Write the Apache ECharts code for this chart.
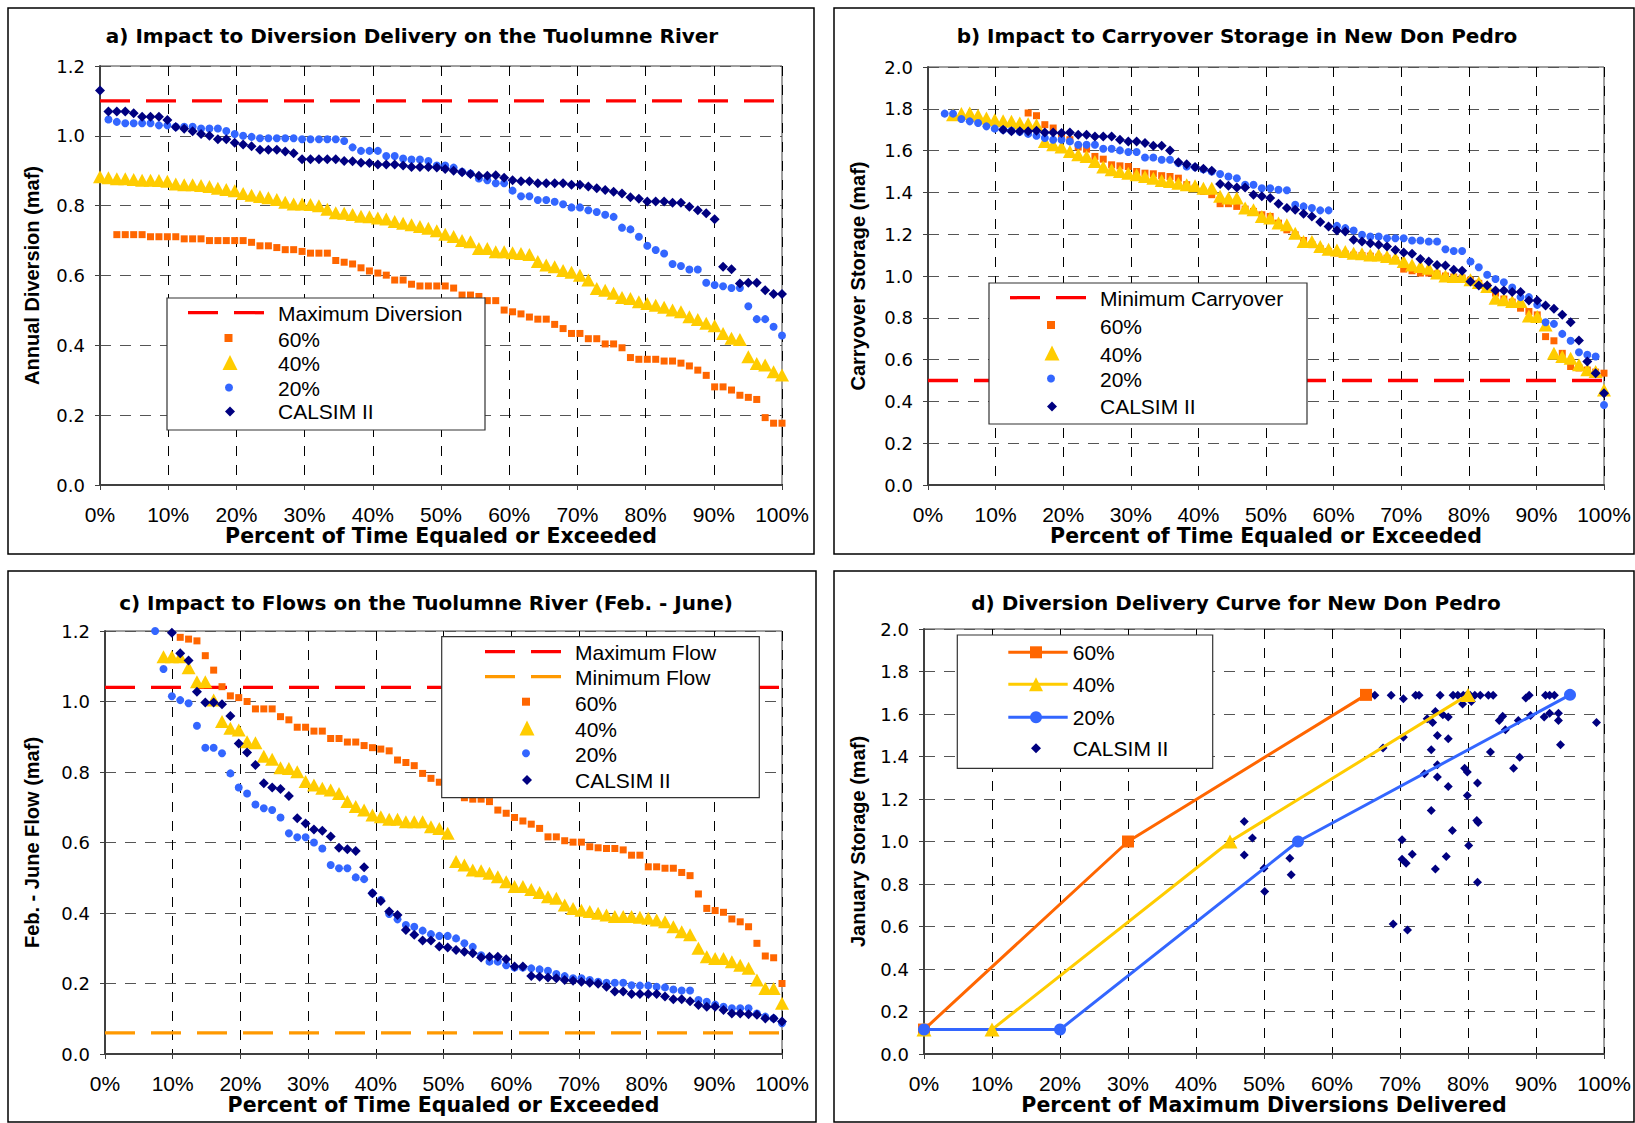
<!DOCTYPE html>
<html><head><meta charset="utf-8">
<script src="https://cdn.jsdelivr.net/npm/echarts/dist/echarts.min.js"></script>
<style>html,body{margin:0;padding:0;background:#fff}#c{width:1635px;height:1123px}</style>
</head><body><div id="c"></div><script>
// ---------- DATA ----------
const PCT_STEP = 100 / 81; // exceedance plotting-position spacing (82 years, rank 0..81)

// Panel a: Annual Diversion (maf)
const A_MAX_DIVERSION = 1.1;
const A_60_START = 2;
const A_60 = [0.717,0.717,0.717,0.717,0.711,0.711,0.711,0.711,0.705,0.705,0.705,0.70,0.70,0.70,0.70,0.70,0.695,0.685,0.685,0.68,0.674,0.674,0.669,0.664,0.664,0.664,0.643,0.638,0.633,0.622,0.613,0.607,0.601,0.587,0.587,0.575,0.57,0.57,0.57,0.57,0.564,
0.544,0.544,0.54,0.528,0.528,0.501,0.496,0.49,0.481,0.475,0.475,0.46,0.448,0.434,0.434,0.419,0.419,0.404,0.404,0.393,0.365,0.36,0.36,0.36,0.355,0.355,0.349,0.341,0.329,0.314,0.281,0.281,0.272,0.257,0.251,0.245,0.193,0.177,0.177];
const A_40_START = 0;
const A_40 = [0.883,0.88,0.877,0.877,0.875,0.873,0.873,0.872,0.87,0.862,0.86,0.86,0.858,0.855,0.85,0.846,0.843,0.835,0.83,0.826,0.823,0.818,0.81,0.805,0.805,0.803,0.80,0.79,0.78,0.778,0.775,0.77,0.768,0.765,0.762,0.755,0.75,0.745,0.74,0.735,0.728,0.718,0.712,
0.70,0.697,0.677,0.677,0.668,0.668,0.665,0.663,0.66,0.64,0.63,0.625,0.614,0.609,0.601,0.587,0.563,0.558,0.549,0.537,0.534,0.525,0.52,0.515,0.509,0.501,0.496,0.482,0.474,0.463,0.456,0.434,0.42,0.417,0.367,0.348,0.344,0.324,0.315];
const A_20_START = 1;
const A_20 = [1.047,1.04,1.036,1.036,1.036,1.036,1.03,1.03,1.026,1.026,1.026,1.021,1.021,1.021,1.014,1.005,1.0,0.997,0.993,0.993,0.993,0.993,0.993,0.99,0.99,0.99,0.99,0.99,0.985,0.967,0.957,0.957,0.957,0.942,0.942,0.935,0.932,0.932,0.928,0.915,0.915,0.909,
0.897,0.892,0.878,0.873,0.864,0.864,0.843,0.827,0.827,0.816,0.816,0.811,0.804,0.795,0.795,0.787,0.782,0.774,0.768,0.737,0.732,0.711,0.685,0.673,0.663,0.633,0.627,0.617,0.617,0.579,0.573,0.569,0.564,0.564,0.512,0.475,0.475,0.453,0.428];
const A_CAL_START = 0;
const A_CAL = [1.13,1.07,1.07,1.07,1.065,1.055,1.055,1.055,1.045,1.025,1.02,1.013,1.005,1.0,0.99,0.99,0.98,0.975,0.97,0.96,0.96,0.96,0.955,0.95,0.933,0.933,0.933,0.933,0.933,0.928,0.927,0.923,0.922,0.918,0.918,0.918,0.915,0.911,0.911,0.911,0.909,0.905,0.90,
0.896,0.891,0.886,0.886,0.887,0.88,0.873,0.87,0.87,0.864,0.864,0.864,0.864,0.86,0.86,0.855,0.85,0.845,0.84,0.835,0.824,0.82,0.812,0.812,0.812,0.808,0.808,0.797,0.787,0.778,0.761,0.625,0.618,0.577,0.579,0.579,0.558,0.547,0.547];

// Panel b: Carryover Storage (maf)
const B_MIN_CARRYOVER = 0.5;
const B_60_START = 12;
const B_60 = [1.78,1.767,1.724,1.708,1.665,1.652,1.617,1.607,1.572,1.559,1.532,1.527,1.524,1.50,1.492,1.489,1.48,1.476,1.468,1.437,1.42,1.405,1.389,1.346,1.346,1.333,1.32,1.309,1.293,1.285,1.253,
1.221,1.197,1.17,1.15,1.13,1.117,1.11,1.105,1.10,1.098,1.095,1.09,1.085,1.075,1.033,1.025,1.014,1.014,1.01,1.0,0.995,0.99,0.98,0.965,0.95,0.918,0.89,0.875,0.846,0.83,0.814,0.71,0.69,0.63,0.567,0.56,0.55,0.54,0.535];
const B_40_START = 3;
const B_40 = [1.772,1.777,1.78,1.769,1.756,1.748,1.743,1.74,1.732,1.729,1.724,1.644,1.628,1.617,1.596,1.58,1.572,1.548,1.521,1.508,1.50,1.492,1.484,1.476,1.468,1.457,1.452,1.444,1.437,1.432,1.42,1.42,1.381,1.373,1.373,1.325,1.317,1.285,1.277,1.253,
1.245,1.205,1.165,1.165,1.141,1.128,1.125,1.117,1.109,1.106,1.101,1.101,1.093,1.085,1.069,1.053,1.045,1.037,1.014,1.0,0.998,0.998,0.982,0.969,0.95,0.894,0.886,0.878,0.878,0.809,0.806,0.766,0.63,0.615,0.607,0.575,0.551,0.543,0.455];
const B_20_START = 2;
const B_20 = [1.777,1.777,1.751,1.74,1.732,1.716,1.705,1.70,1.695,1.69,1.68,1.671,1.66,1.652,1.652,1.644,1.628,1.628,1.628,1.609,1.609,1.601,1.593,1.593,1.567,1.567,1.556,1.556,1.54,1.524,1.52,1.51,1.50,1.488,1.476,1.468,1.437,1.437,1.42,1.42,1.413,
1.41,1.341,1.333,1.325,1.314,1.314,1.24,1.229,1.218,1.197,1.189,1.189,1.181,1.181,1.181,1.17,1.17,1.165,1.165,1.128,1.12,1.12,1.069,1.042,1.006,0.986,0.97,0.945,0.899,0.899,0.862,0.779,0.771,0.723,0.69,0.635,0.623,0.615,0.383];
const B_CAL_START = 9;
const B_CAL = [1.70,1.692,1.692,1.692,1.695,1.687,1.687,1.684,1.687,1.676,1.676,1.668,1.668,1.668,1.652,1.644,1.644,1.636,1.623,1.623,1.601,1.544,1.535,1.521,1.513,1.504,1.44,1.432,1.424,1.424,1.389,1.381,1.373,1.346,
1.325,1.317,1.298,1.285,1.258,1.237,1.218,1.213,1.173,1.165,1.157,1.149,1.141,1.125,1.112,1.106,1.081,1.069,1.053,1.05,1.03,1.025,0.974,0.955,0.955,0.931,0.931,0.923,0.923,0.883,0.883,0.859,0.843,0.814,0.779,0.691,0.591,0.535,0.439];

// Panel c: Feb. - June Flow (maf)
const C_MAX_FLOW = 1.04;
const C_MIN_FLOW = 0.06;
const C_60_START = 9;
const C_60 = [1.182,1.177,1.172,1.13,1.089,1.042,1.016,1.011,1.0,0.979,0.979,0.979,0.957,0.948,0.927,0.927,0.916,0.916,0.895,0.895,0.885,0.885,0.875,0.869,0.865,0.86,0.834,0.827,0.818,0.796,0.782,0.771,0.771,0.75,
0.727,0.723,0.723,0.716,0.692,0.683,0.671,0.661,0.652,0.64,0.616,0.616,0.605,0.601,0.601,0.588,0.585,0.583,0.583,0.579,0.564,0.564,0.531,0.531,0.527,0.527,0.515,0.506,0.454,0.413,0.407,0.402,0.383,0.375,0.361,0.314,0.278,0.273,0.20];
const C_40_START = 7;
const C_40 = [1.127,1.127,1.127,1.096,1.056,1.056,1.004,0.943,0.924,0.919,0.886,0.883,0.845,0.836,0.812,0.81,0.801,0.773,0.763,0.754,0.749,0.739,0.716,0.702,0.692,0.678,0.673,0.666,0.666,0.659,0.659,0.659,0.645,0.64,0.626,0.546,
0.536,0.522,0.52,0.513,0.503,0.489,0.475,0.475,0.467,0.458,0.446,0.442,0.423,0.413,0.408,0.404,0.399,0.394,0.39,0.39,0.39,0.388,0.385,0.38,0.375,0.361,0.347,0.338,0.30,0.276,0.271,0.271,0.262,0.252,0.243,0.21,0.186,0.186,0.144];
const C_20_START = 6;
const C_20 = [1.2,1.092,1.015,1.004,0.995,0.931,0.869,0.869,0.853,0.796,0.756,0.739,0.708,0.697,0.692,0.671,0.626,0.615,0.615,0.60,0.583,0.536,0.527,0.527,0.501,0.496,0.456,0.437,0.397,0.382,0.366,0.361,0.35,0.34,0.335,0.335,0.328,
0.314,0.304,0.28,0.262,0.262,0.252,0.245,0.245,0.243,0.24,0.236,0.227,0.221,0.215,0.215,0.21,0.205,0.202,0.202,0.202,0.195,0.194,0.194,0.191,0.189,0.183,0.18,0.18,0.153,0.148,0.14,0.134,0.13,0.13,0.13,0.115,0.106,0.101,0.087];
const C_CAL_START = 8;
const C_CAL = [1.195,1.137,1.116,1.028,0.997,0.997,0.992,0.959,0.881,0.855,0.82,0.768,0.756,0.752,0.732,0.669,0.654,0.637,0.633,0.617,0.585,0.581,0.576,0.53,0.456,0.434,0.404,0.394,0.352,0.338,0.322,0.322,0.305,0.302,0.295,
0.29,0.286,0.274,0.276,0.276,0.269,0.248,0.248,0.221,0.219,0.217,0.215,0.21,0.208,0.205,0.202,0.199,0.191,0.177,0.177,0.17,0.17,0.17,0.17,0.163,0.155,0.155,0.15,0.139,0.134,0.134,0.125,0.115,0.115,0.113,0.111,0.101,0.101,0.092];

// Panel d: Diversion delivery curves [percent of max diversion, January storage]
const D_60 = [[0,0.115],[30,1.0],[65,1.69]];
const D_40 = [[0,0.115],[10,0.115],[45,1.0],[80,1.69]];
const D_20 = [[0,0.115],[20,0.115],[55,1.0],[95,1.69]];
const D_CAL = [[47.1,1.094],[48.3,1.016],[47.1,0.937],[50.0,0.874],[50.1,0.765],[53.8,0.921],[54.0,0.843],
[66.3,1.688],[68.7,1.688],[70.5,1.672],[72.3,1.688],[72.8,1.688],[75.9,1.688],[77.8,1.688],[78.5,1.688],[79.3,1.688],[79.8,1.688],[80.3,1.688],[81.0,1.688],[81.8,1.688],[83.0,1.688],[83.7,1.688],[88.5,1.675],[89.0,1.688],[91.4,1.688],[92.0,1.688],[92.7,1.688],
[79.2,1.647],[80.5,1.659],[75.2,1.612],[76.3,1.597],[77.1,1.586],[74.0,1.578],[74.8,1.56],[84.6,1.57],[85.1,1.589],[87.4,1.57],[89.2,1.593],[91.2,1.586],[92.0,1.604],[93.3,1.604],[93.3,1.57],[98.9,1.56],[85.5,1.526],
[67.5,1.44],[70.5,1.491],[75.5,1.499],[77.1,1.484],[74.6,1.432],[93.6,1.455],[83.3,1.421],[87.6,1.397],[86.7,1.345],[75.5,1.361],[79.5,1.345],[79.9,1.327],[73.6,1.319],[75.5,1.303],[81.4,1.275],[77.1,1.259],[79.9,1.217],[74.6,1.146],[81.3,1.099],[81.5,1.089],[77.7,1.052],[70.3,1.008],[80.1,0.981],[71.8,0.94],[70.3,0.917],[70.9,0.898],[76.8,0.929],[75.2,0.871],[81.4,0.808],[69.0,0.612],[71.1,0.584]];

const TITLES = ['a) Impact to Diversion Delivery on the Tuolumne River','b) Impact to Carryover Storage in New Don Pedro','c) Impact to Flows on the Tuolumne River (Feb. - June)','d) Diversion Delivery Curve for New Don Pedro'];
const Y_NAMES = ['Annual Diversion (maf)','Carryover Storage (maf)','Feb. - June Flow (maf)','January Storage (maf)'];
const X_NAMES = ['Percent of Time Equaled or Exceeded','Percent of Time Equaled or Exceeded','Percent of Time Equaled or Exceeded','Percent of Maximum Diversions Delivered'];
const Y_MAX = [1.2, 2.0, 1.2, 2.0];

// ---------- STYLE / LAYOUT ----------
const C60 = '#FF6600', C40 = '#FFCC00', C20 = '#3366FF', CCAL = '#000080', CRED = '#FF0000', CMIN = '#FF9900';
const GRIDS = [
  {left:100, top:66, width:682, height:419},
  {left:928, top:67, width:676, height:418},
  {left:105, top:631, width:677, height:423},
  {left:924, top:629, width:680, height:425}
];
const Y_NAME_GAP = [58, 60, 63, 56];
const TITLE_POS = [[412, 26], [1237, 26], [426, 593], [1236, 593]];
const BOXES = [[8,8,806,546],[834,8,800,546],[8,571,808,551],[834,571,800,551]];
const FONT = 'Liberation Sans, Arial, sans-serif';
const WIDE = 'DejaVu Sans, Verdana, sans-serif';

function ranked(start, vals){ return vals.map((v,i)=>[(start+i)*PCT_STEP, v]); }

const grids = GRIDS.map(g => Object.assign({show:true, borderColor:'#404040', borderWidth:1, backgroundColor:'#fff', containLabel:false, outerBoundsMode:'none'}, g));

const xAxes = GRIDS.map((g,i) => ({
  gridIndex:i, type:'value', min:0, max:100, interval:10,
  name: X_NAMES[i], nameLocation:'middle', nameGap:40,
  nameTextStyle:{fontFamily:WIDE, fontWeight:'bold', fontSize:20.5, color:'#000'},
  axisLine:{onZero:false, lineStyle:{color:'#404040', width:2}},
  axisTick:{show:true, inside:false, length:5, lineStyle:{color:'#404040', width:1}},
  axisLabel:{fontFamily:FONT, fontSize:21, color:'#000', margin:19, formatter:v=>v+'%'},
  splitLine:{show:true, lineStyle:{color:'#000', width:1, type:[10,9]}}
}));
const yAxes = GRIDS.map((g,i) => ({
  gridIndex:i, type:'value', min:0, max:Y_MAX[i], interval:0.2,
  name: Y_NAMES[i], nameLocation:'middle', nameGap:Y_NAME_GAP[i], nameRotate:90,
  nameTextStyle:{fontFamily:FONT, fontWeight:'bold', fontSize:20, color:'#000'},
  axisLine:{onZero:false, lineStyle:{color:'#404040', width:2}},
  axisTick:{show:true, inside:false, length:5, lineStyle:{color:'#404040', width:1}},
  axisLabel:{fontFamily:WIDE, fontSize:18, color:'#000', margin:15, formatter:v=>v.toFixed(1)},
  splitLine:{show:true, lineStyle:{color:'#555', width:1, type:[11,9]}}
}));

const SYM = {
  s60:{symbol:'rect', symbolSize:7, color:C60},
  s40:{symbol:'triangle', symbolSize:[14,13], color:C40},
  s20:{symbol:'circle', symbolSize:8, color:C20},
  cal:{symbol:'diamond', symbolSize:10, color:CCAL}
};
function scat(name, gi, data, s){
  return {type:'scatter', name, xAxisIndex:gi, yAxisIndex:gi, data, symbol:s.symbol, symbolSize:s.symbolSize,
    itemStyle:{color:s.color, opacity:1}, clip:false, silent:true, animation:false};
}
function refLine(name, gi, v, color){
  return {type:'line', name, xAxisIndex:gi, yAxisIndex:gi, data:[[0,v],[100,v]], symbol:'none',
    lineStyle:{color, width:3.3, type:[30,16]}, silent:true, animation:false, z:1};
}
function curve(name, data, color, symbol, size){
  return {type:'line', name, xAxisIndex:3, yAxisIndex:3, data, symbol, symbolSize:size, showAllSymbol:true,
    lineStyle:{color, width:3}, itemStyle:{color, opacity:1}, silent:true, animation:false, clip:false};
}

const series = [
  refLine('Maximum Diversion', 0, A_MAX_DIVERSION, CRED),
  scat('60%', 0, ranked(A_60_START, A_60), SYM.s60),
  scat('40%', 0, ranked(A_40_START, A_40), SYM.s40),
  scat('20%', 0, ranked(A_20_START, A_20), SYM.s20),
  scat('CALSIM II', 0, ranked(A_CAL_START, A_CAL), SYM.cal),

  refLine('Minimum Carryover', 1, B_MIN_CARRYOVER, CRED),
  scat('60%', 1, ranked(B_60_START, B_60), SYM.s60),
  scat('40%', 1, ranked(B_40_START, B_40), SYM.s40),
  scat('20%', 1, ranked(B_20_START, B_20), SYM.s20),
  scat('CALSIM II', 1, ranked(B_CAL_START, B_CAL), SYM.cal),

  refLine('Maximum Flow', 2, C_MAX_FLOW, CRED),
  refLine('Minimum Flow', 2, C_MIN_FLOW, CMIN),
  scat('60%', 2, ranked(C_60_START, C_60), SYM.s60),
  scat('40%', 2, ranked(C_40_START, C_40), SYM.s40),
  scat('20%', 2, ranked(C_20_START, C_20), SYM.s20),
  scat('CALSIM II', 2, ranked(C_CAL_START, C_CAL), SYM.cal),

  curve('60%', D_60, C60, 'rect', 12),
  curve('40%', D_40, C40, 'triangle', [15,14]),
  curve('20%', D_20, C20, 'circle', 12),
  scat('CALSIM II', 3, D_CAL, {symbol:'diamond', symbolSize:9, color:CCAL})
];

// ---------- legends & frames (graphic) ----------
const G = [];
BOXES.forEach(b => G.push({type:'rect', z:0, shape:{x:b[0], y:b[1], width:b[2], height:b[3]}, style:{fill:'none', stroke:'#000', lineWidth:1.5}, silent:true}));

function legBox(x,y,w,h){ G.push({type:'rect', z:100, shape:{x,y,width:w,height:h}, style:{fill:'#fff', stroke:'#333', lineWidth:1.2}, silent:true}); }
function legDash(x1,x2,y,color){ G.push({type:'line', z:101, shape:{x1,y1:y,x2,y2:y}, style:{stroke:color, lineWidth:3.3, lineDash:[30,16]}, silent:true}); }
function legLine(x1,x2,y,color){ G.push({type:'line', z:101, shape:{x1,y1:y,x2,y2:y}, style:{stroke:color, lineWidth:3}, silent:true}); }
function legMark(kind,cx,cy,color,s){
  let el;
  if(kind==='rect') el={type:'rect', shape:{x:cx-s/2,y:cy-s/2,width:s,height:s}};
  else if(kind==='circle') el={type:'circle', shape:{cx,cy,r:s/2}};
  else if(kind==='triangle') el={type:'polygon', shape:{points:[[cx,cy-s/2],[cx+s/2,cy+s/2],[cx-s/2,cy+s/2]]}};
  else el={type:'polygon', shape:{points:[[cx,cy-s/2],[cx+s/2,cy],[cx,cy+s/2],[cx-s/2,cy]]}};
  el.z=102; el.silent=true; el.style={fill:color};
  G.push(el);
}
function legText(x,y,text){ G.push({type:'text', z:102, x, y, silent:true, style:{text, fill:'#000', fontFamily:FONT, fontSize:21, verticalAlign:'middle', align:'left'}}); }

// legend a
legBox(167,298,318,132);
legDash(188,264,312.7,CRED); legText(278,313,'Maximum Diversion');
legMark('rect',228.5,338,C60,8); legText(278,339.5,'60%');
legMark('triangle',230,362.5,C40,15); legText(278,363.5,'40%');
legMark('circle',229,387.5,C20,8); legText(278,388.5,'20%');
legMark('diamond',230,411.5,CCAL,10); legText(278,411.8,'CALSIM II');
// legend b
legBox(989,283,318,141);
legDash(1010,1087,297.7,CRED); legText(1100,298.3,'Minimum Carryover');
legMark('rect',1051,325,C60,8); legText(1100,326.7,'60%');
legMark('triangle',1052,353,C40,15); legText(1100,354.3,'40%');
legMark('circle',1051,378.5,C20,8); legText(1100,379.3,'20%');
legMark('diamond',1052,406.5,CCAL,10); legText(1100,406.7,'CALSIM II');
// legend c
legBox(441.7,636.7,317.6,161);
legDash(485,561,651.7,CRED); legText(575,652.3,'Maximum Flow');
legDash(485,561,676.7,CMIN); legText(575,677.7,'Minimum Flow');
legMark('rect',526,701.7,C60,8); legText(575,703.3,'60%');
legMark('triangle',527,728,C40,15); legText(575,729.3,'40%');
legMark('circle',526,753.3,C20,8); legText(575,754.3,'20%');
legMark('diamond',527,780,CCAL,10); legText(575,780,'CALSIM II');
// legend d
legBox(957.3,635,255.4,133.3);
legLine(1008.3,1067.7,652.3,C60); legMark('rect',1036,652.3,C60,12); legText(1072.7,652.3,'60%');
legLine(1008.3,1067.7,684.3,C40); legMark('triangle',1036,684.3,C40,14); legText(1072.7,684.3,'40%');
legLine(1008.3,1067.7,717.3,C20); legMark('circle',1036,717.3,C20,12); legText(1072.7,717.3,'20%');
legMark('diamond',1036,748.3,CCAL,10); legText(1072.7,748.3,'CALSIM II');

const titles = TITLES.map((t,i)=>({text:t, left:TITLE_POS[i][0], top:TITLE_POS[i][1], textAlign:'center', padding:0,
  textStyle:{fontFamily:WIDE, fontWeight:'bold', fontSize:20, color:'#000'}}));

const chart = echarts.init(document.getElementById('c'), null, {renderer:'svg', width:1635, height:1123});
chart.setOption({
  backgroundColor:'#fff', animation:false,
  title: titles, grid: grids, xAxis: xAxes, yAxis: yAxes, series, graphic: G
});
</script></body></html>
